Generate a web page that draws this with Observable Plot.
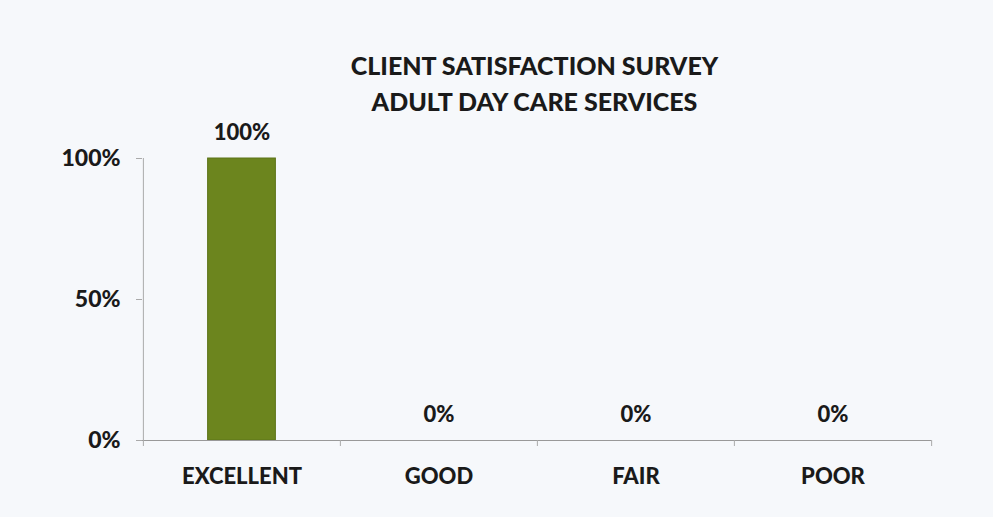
<!DOCTYPE html>
<html>
<head>
<meta charset="utf-8">
<script src="https://cdn.jsdelivr.net/npm/d3@7"></script>
<script src="https://cdn.jsdelivr.net/npm/@observablehq/plot@0.6"></script>
<style>
  html, body { margin: 0; padding: 0; background: #f6f8fb; }
  #title { height: 115px; box-sizing: border-box; padding-top: 47px; text-align: center;
    font-family: Lato, "Liberation Sans", sans-serif; font-weight: 900; font-size: 25px;
    line-height: 36px; color: #1a1a1a; padding-left: 76px; }
  #title div { margin: 0; }
  svg { display: block; }
</style>
</head>
<body>
<div id="title"><div>CLIENT SATISFACTION SURVEY</div><div>ADULT DAY CARE SERVICES</div></div>
<div id="chart"></div>
<script>
const categories = ["EXCELLENT", "GOOD", "FAIR", "POOR"];
const values = [100, 0, 0, 0];
const yTicks = [0, 50, 100];

const data = categories.map((c, i) => ({category: c, value: values[i]}));

const width = 993, height = 402;
const marginLeft = 142, marginRight = 62, marginTop = 43, marginBottom = 77;
const step = (width - marginLeft - marginRight) / categories.length;
const font = "Lato, 'Liberation Sans', sans-serif";

const chart = Plot.plot({
  width, height, marginLeft, marginRight, marginTop, marginBottom,
  style: {background: "transparent", fontFamily: font, color: "#1a1a1a"},
  x: {domain: categories, padding: 0, label: null},
  y: {domain: [0, 100], label: null},
  marks: [
    Plot.barY(data, {x: "category", y: "value", fill: "#6c851e", stroke: "#5d7419", strokeWidth: 1,
      insetLeft: (step - 68) / 2, insetRight: (step - 68) / 2}),
    Plot.axisY({ticks: yTicks, tickFormat: d => d + "%", tickSize: 6, tickPadding: 16,
      fontSize: 23, fontWeight: 900, stroke: "#aaa"}),
    Plot.ruleX([categories[0]], {dx: -step / 2, stroke: "#aaa", y1: 0, y2: 100}),
    Plot.ruleY([0], {stroke: "#999"}),
    Plot.axisX({tickSize: 6, text: null, dx: -step / 2, stroke: "#aaa"}),
    Plot.axisX([categories[categories.length - 1]], {tickSize: 6, text: null, dx: step / 2, stroke: "#aaa"}),
    Plot.axisX({tickSize: 0, tickPadding: 28, fontSize: 22, fontWeight: 900}),
    Plot.text(data, {x: "category", y: "value", text: d => d.value + "%", dy: -26,
      fontSize: 22, fontWeight: 900, fill: "#1a1a1a"})
  ]
});
document.getElementById("chart").appendChild(chart);
</script>
</body>
</html>
